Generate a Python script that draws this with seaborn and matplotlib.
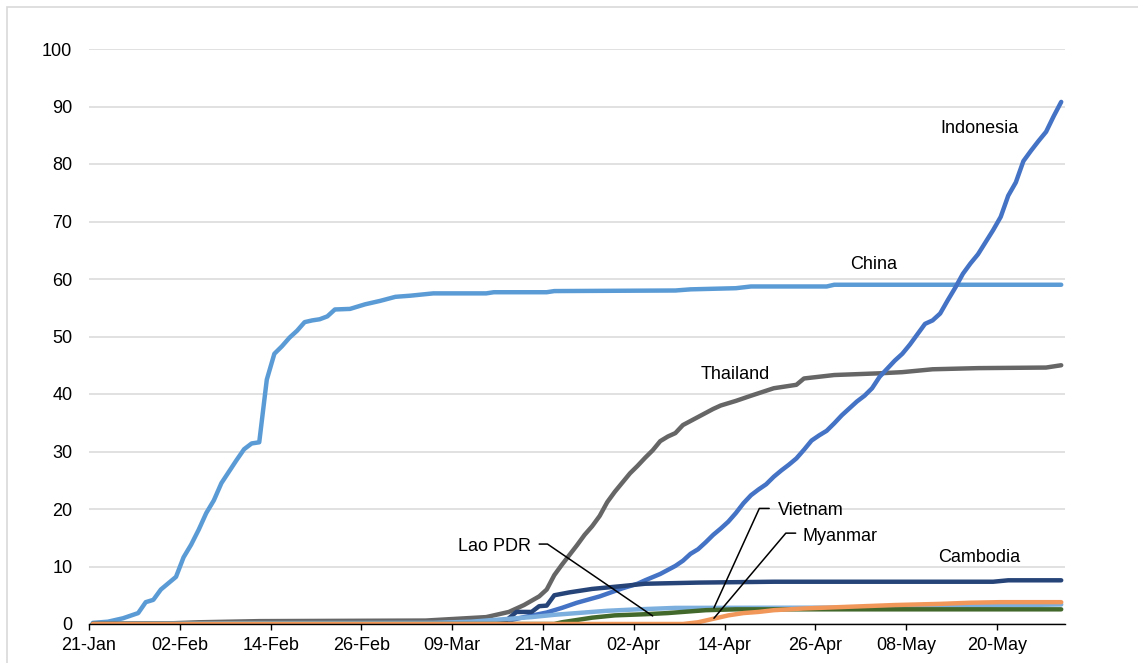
import pandas as pd
import matplotlib
matplotlib.use('Agg')
import matplotlib.pyplot as plt
from matplotlib.patches import Rectangle
import seaborn as sns

# day offsets from 21-Jan-2020 and values
START = pd.Timestamp('2020-01-21')

china_days = [0, 2, 4, 6, 7, 8, 9, 11, 12, 13, 14, 15, 16, 17, 18, 19, 20, 21, 22, 23,
              24, 25, 26, 27, 28, 29, 30, 31, 32, 34, 36, 38, 40, 42, 45, 52, 53, 60,
              61, 77, 79, 85, 87, 97, 98, 128]
china_vals = [0.2, 0.4, 1.0, 1.9, 3.8, 4.2, 6.0, 8.2, 11.6, 13.8, 16.4, 19.3, 21.5, 24.5,
              26.5, 28.5, 30.4, 31.4, 31.6, 42.5, 47.0, 48.3, 49.8, 51.0, 52.5, 52.8, 53.0,
              53.5, 54.7, 54.8, 55.6, 56.2, 56.9, 57.1, 57.5, 57.5, 57.7, 57.7, 57.9, 58.0,
              58.2, 58.4, 58.7, 58.7, 59.0, 59.0]

thailand_days = [0, 10, 14, 22, 44, 48, 52, 55, 57, 59, 60, 61, 62, 63, 64, 65, 66, 67, 68,
                 69, 70, 71, 72, 73, 74, 75, 76, 77, 78, 79, 80, 81, 82, 83, 84, 85, 87, 90,
                 92, 93, 94, 98, 104, 107, 111, 117, 126, 128]
thailand_vals = [0.0, 0.1, 0.3, 0.5, 0.6, 0.9, 1.2, 2.1, 3.3, 4.8, 6.0, 8.5, 10.3, 12.0,
                 13.7, 15.5, 17.0, 18.8, 21.2, 23.0, 24.6, 26.2, 27.5, 28.9, 30.2, 31.8,
                 32.6, 33.2, 34.6, 35.3, 36.0, 36.7, 37.4, 38.0, 38.4, 38.8, 39.7, 41.0,
                 41.4, 41.6, 42.7, 43.3, 43.6, 43.8, 44.3, 44.5, 44.6, 45.0]

indonesia_days = [0, 40, 50, 54, 57, 60, 62, 64, 67, 70, 72, 73, 75, 77, 78, 79, 80, 81, 82,
                  83, 84, 85, 86, 87, 88, 89, 90, 91, 92, 93, 94, 95, 96, 97, 98, 99, 100,
                  101, 102, 103, 104, 105, 106, 107, 108, 109, 110, 111, 112, 113, 114, 115,
                  116, 117, 118, 119, 120, 121, 122, 123, 124, 125, 126, 127, 128]
indonesia_vals = [0.0, 0.0, 0.1, 0.3, 1.2, 2.0, 2.8, 3.7, 4.8, 6.2, 7.0, 7.6, 8.7, 10.1,
                  11.0, 12.2, 13.0, 14.2, 15.5, 16.6, 17.8, 19.3, 21.0, 22.4, 23.4, 24.3,
                  25.6, 26.7, 27.7, 28.8, 30.3, 31.9, 32.8, 33.6, 34.9, 36.3, 37.5, 38.7,
                  39.7, 41.0, 43.0, 44.4, 45.8, 47.0, 48.6, 50.4, 52.2, 52.8, 54.0, 56.3,
                  58.5, 60.9, 62.7, 64.3, 66.4, 68.5, 70.8, 74.5, 76.8, 80.5, 82.3, 84.0,
                  85.6, 88.3, 90.8]

cambodia_days = [0, 30, 54, 55, 56, 58, 59, 60, 61, 63, 66, 70, 73, 80, 90, 119, 121, 128]
cambodia_vals = [0.0, 0.1, 0.1, 1.0, 2.1, 2.1, 3.1, 3.2, 5.0, 5.5, 6.1, 6.6, 7.0, 7.2,
                 7.35, 7.35, 7.6, 7.6]

vietnam_days = [0, 20, 45, 50, 55, 58, 61, 64, 68, 72, 77, 100, 110, 118, 128]
vietnam_vals = [0.0, 0.15, 0.2, 0.4, 0.9, 1.2, 1.6, 1.9, 2.3, 2.55, 2.8, 2.85, 3.0, 3.2, 3.4]

lao_days = [0, 61, 62, 64, 66, 69, 73, 76, 78, 81, 85, 128]
lao_vals = [0.0, 0.0, 0.3, 0.7, 1.1, 1.5, 1.7, 1.9, 2.1, 2.4, 2.55, 2.55]

myanmar_days = [0, 78, 80, 82, 84, 86, 88, 90, 94, 100, 106, 112, 116, 120, 128]
myanmar_vals = [0.0, 0.0, 0.3, 0.9, 1.5, 1.9, 2.1, 2.4, 2.7, 3.0, 3.3, 3.5, 3.7, 3.8, 3.8]

series = {
    'China': (china_days, china_vals),
    'Thailand': (thailand_days, thailand_vals),
    'Indonesia': (indonesia_days, indonesia_vals),
    'Cambodia': (cambodia_days, cambodia_vals),
    'Vietnam': (vietnam_days, vietnam_vals),
    'Lao PDR': (lao_days, lao_vals),
    'Myanmar': (myanmar_days, myanmar_vals),
}

colors = {
    'China': '#5B9BD5',
    'Thailand': '#666666',
    'Indonesia': '#4472C4',
    'Cambodia': '#264478',
    'Vietnam': '#7CAFDD',
    'Lao PDR': '#43682B',
    'Myanmar': '#F1975A',
}

rows = []
for name, (days, vals) in series.items():
    for d, v in zip(days, vals):
        # excel date axis puts each point in the middle of its day
        rows.append({'country': name, 'pos': d + 0.5, 'value': v})
df = pd.DataFrame(rows)

sns.set_style('white')
plt.rcParams['font.family'] = ['Liberation Sans', 'DejaVu Sans']
plt.rcParams['text.color'] = 'black'

fig = plt.figure(figsize=(11.38, 6.63), dpi=100)
ax = fig.add_axes([89 / 1138, 1 - 624 / 663, 976 / 1138, 575 / 663])

# light grey frame at top/left of the picture
fig.patches.append(Rectangle((7 / 1138, -0.2), 2, 1.2 - 7 / 663, transform=fig.transFigure,
                             fill=False, edgecolor='#D9D9D9', lw=1.2))

sns.lineplot(data=df, x='pos', y='value', hue='country', hue_order=list(series.keys()),
             palette=colors, lw=3.2, legend=False, ax=ax, solid_capstyle='round')

ax.set_xlim(0, 129)
ax.set_ylim(0, 100)
ax.set_xlabel('')
ax.set_ylabel('')

tick_pos = list(range(0, 121, 12))
ax.set_xticks(tick_pos)
ax.set_xticklabels([(START + pd.Timedelta(days=t)).strftime('%d-%b') for t in tick_pos])
ax.set_yticks(range(0, 101, 10))

ax.yaxis.grid(True, color='#D9D9D9', lw=1.1)
ax.xaxis.grid(False)
ax.set_axisbelow(True)
for s in ['top', 'right', 'left']:
    ax.spines[s].set_visible(False)
ax.spines['bottom'].set_color('black')
ax.spines['bottom'].set_linewidth(1.0)
ax.tick_params(axis='x', length=4, width=1, color='black', direction='out', pad=5,
               labelsize=13, labelcolor='black', bottom=True)
ax.tick_params(axis='y', length=0, pad=12, labelsize=13, labelcolor='black')

# labels
fs = 13
ax.text(117.7, 86.1, 'Indonesia', ha='center', va='center', fontsize=fs, color='black')
ax.text(103.7, 62.6, 'China', ha='center', va='center', fontsize=fs, color='black')
ax.text(85.4, 43.4, 'Thailand', ha='center', va='center', fontsize=fs, color='black')
ax.text(117.7, 11.6, 'Cambodia', ha='center', va='center', fontsize=fs, color='black')
ax.text(91.0, 19.8, 'Vietnam', ha='left', va='center', fontsize=fs, color='black')
ax.text(94.3, 15.3, 'Myanmar', ha='left', va='center', fontsize=fs, color='black')
ax.text(58.4, 13.4, 'Lao PDR', ha='right', va='center', fontsize=fs, color='black')

# leader lines
ax.plot([89.9, 88.6, 82.6], [20.1, 20.1, 2.8], color='black', lw=1.1)
ax.plot([93.4, 92.1, 82.6], [15.8, 15.8, 1.0], color='black', lw=1.1)
ax.plot([59.5, 60.6, 74.5], [13.9, 13.9, 1.4], color='black', lw=1.1)

fig.savefig('out.png', dpi=100)
